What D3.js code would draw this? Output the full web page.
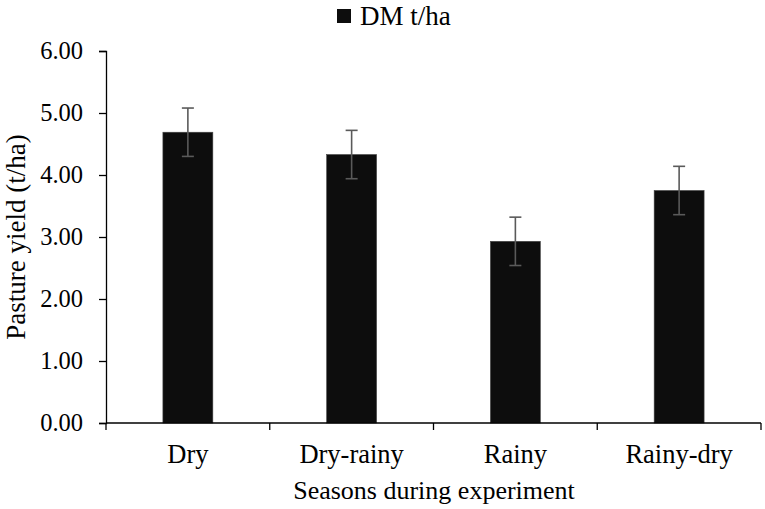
<!DOCTYPE html>
<html>
<head>
<meta charset="utf-8">
<script src="https://cdn.jsdelivr.net/npm/d3@7"></script>
<style>
  body { margin: 0; background: #fff; }
  svg text { font-family: "Liberation Serif", "Times New Roman", serif; fill: #000; }
</style>
</head>
<body>
<div id="chart"></div>
<script>
// seasons and dry matter yield (t/ha)
const seasons = ["Dry", "Dry-rainy", "Rainy", "Rainy-dry"];
const yieldDM = [4.69, 4.33, 2.93, 3.75];
const errDM = [0.39, 0.39, 0.39, 0.39];
const yTicks = [0, 1, 2, 3, 4, 5, 6];

const W = 765, H = 509;
const margin = { top: 51, right: 4, bottom: 86, left: 106 };
const width = W - margin.left - margin.right;
const height = H - margin.top - margin.bottom;

const svg = d3.select("#chart").append("svg")
    .attr("width", W)
    .attr("height", H);

const g = svg.append("g")
    .attr("transform", `translate(${margin.left},${margin.top})`);

const x = d3.scaleBand()
    .domain(seasons)
    .range([0, width])
    .paddingInner(0.695)
    .paddingOuter(0.3475);

const y = d3.scaleLinear()
    .domain([0, 6])
    .range([height, 0]);

// bars
g.selectAll(".bar")
    .data(seasons)
    .enter()
    .append("rect")
    .attr("class", "bar")
    .attr("x", d => x(d))
    .attr("y", (d, i) => y(yieldDM[i]))
    .attr("width", x.bandwidth())
    .attr("height", (d, i) => height - y(yieldDM[i]))
    .attr("fill", "#0d0d0d")
    .attr("stroke", "#444")
    .attr("stroke-width", 0.6);

// error bars
const cap = 6;
seasons.forEach((s, i) => {
    const cx = x(s) + x.bandwidth() / 2;
    const top = y(yieldDM[i] + errDM[i]);
    const bot = y(yieldDM[i] - errDM[i]);
    const eb = g.append("g")
        .attr("stroke", "#5a5a5a")
        .attr("stroke-width", 1.6);
    eb.append("line").attr("x1", cx).attr("x2", cx).attr("y1", top).attr("y2", bot);
    eb.append("line").attr("x1", cx - cap).attr("x2", cx + cap).attr("y1", top).attr("y2", top);
    eb.append("line").attr("x1", cx - cap).attr("x2", cx + cap).attr("y1", bot).attr("y2", bot);
});

// y axis
const yAxis = g.append("g")
    .call(d3.axisLeft(y).tickValues(yTicks).tickFormat(d3.format(".2f")).tickSizeOuter(0).tickSize(7).tickPadding(16));
yAxis.attr("font-family", null).attr("font-size", null);
yAxis.selectAll("text")
    .style("font-size", "24.5px");
yAxis.selectAll("line, path").attr("stroke", "#000").attr("stroke-width", 1.3);

// x axis: ticks sit between categories
const xAxis = g.append("g")
    .attr("transform", `translate(0,${height})`);
xAxis.append("line")
    .attr("x1", 0).attr("x2", width)
    .attr("stroke", "#000").attr("stroke-width", 1.3);
const step = x.step();
d3.range(seasons.length + 1).forEach(k => {
    const xx = Math.min(k * step, width);
    xAxis.append("line")
        .attr("x1", xx).attr("x2", xx)
        .attr("y1", 0).attr("y2", 7)
        .attr("stroke", "#000").attr("stroke-width", 1.3);
});
xAxis.selectAll(".cat")
    .data(seasons)
    .enter()
    .append("text")
    .attr("class", "cat")
    .attr("x", d => x(d) + x.bandwidth() / 2)
    .attr("y", 463 - margin.top - height)
    .attr("text-anchor", "middle")
    .style("font-size", "26.5px")
    .text(d => d);

// axis titles
svg.append("text")
    .attr("x", 434)
    .attr("y", 499)
    .attr("text-anchor", "middle")
    .style("font-size", "26px")
    .text("Seasons during experiment");

svg.append("text")
    .attr("transform", `translate(25,${margin.top + height / 2}) rotate(-90)`)
    .attr("text-anchor", "middle")
    .style("font-size", "27px")
    .text("Pasture yield (t/ha)");

// legend
const legend = svg.append("g")
    .attr("transform", "translate(337,9)");
legend.append("rect")
    .attr("width", 14)
    .attr("height", 14)
    .attr("fill", "#0d0d0d");
legend.append("text")
    .attr("x", 23)
    .attr("y", 15.5)
    .style("font-size", "27px")
    .text("DM t/ha");
</script>
</body>
</html>
